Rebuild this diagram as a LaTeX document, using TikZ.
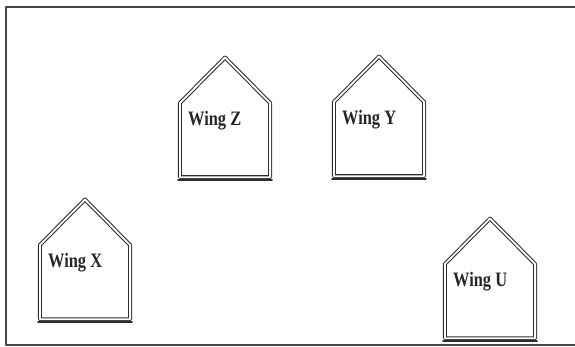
\documentclass[tikz,border=0pt]{standalone}
\usepackage{fontspec}
\newfontfamily\wingfont[FakeStretch=0.8]{Liberation Serif}

\begin{document}
\begin{tikzpicture}[x=1pt,y=-1pt,line cap=round,line join=round]
\definecolor{wallgray}{RGB}{45,45,45}
\definecolor{framegray}{RGB}{70,70,70}

\useasboundingbox (0,0) rectangle (575,347);

\newcommand{\winghouse}{
  \draw[wallgray, line width=1.05pt, double=white, double distance=1.8pt]
    (1.9,-2.8) -- (92.1,-2.8) -- (92.1,-77) -- (47,-122.5) -- (1.9,-77) -- cycle;
  \draw[wallgray, line width=2.6pt] (0.3,0) -- (93.7,0);
}

\newcommand{\winglabel}[2]{
  \node[anchor=west,inner sep=0pt,text=black!85,font=\wingfont\bfseries\fontsize{20.5}{21}\selectfont] (#1) at (10,-59) {#2};
}

% outer frame, open on the right
\draw[framegray, line width=1.5pt] (575,7) -- (6,7) -- (6,345) -- (575,345);

\begin{scope}[shift={(178,180)}]
  \winghouse
  \winglabel{wingz}{Wing Z}
\end{scope}

\begin{scope}[shift={(332,179)}]
  \winghouse
  \winglabel{wingy}{Wing Y}
\end{scope}

\begin{scope}[shift={(38,322)}]
  \winghouse
  \winglabel{wingx}{Wing X}
\end{scope}

\begin{scope}[shift={(443,341)}]
  \winghouse
  \winglabel{wingu}{Wing U}
\end{scope}
\end{tikzpicture}
\end{document}
